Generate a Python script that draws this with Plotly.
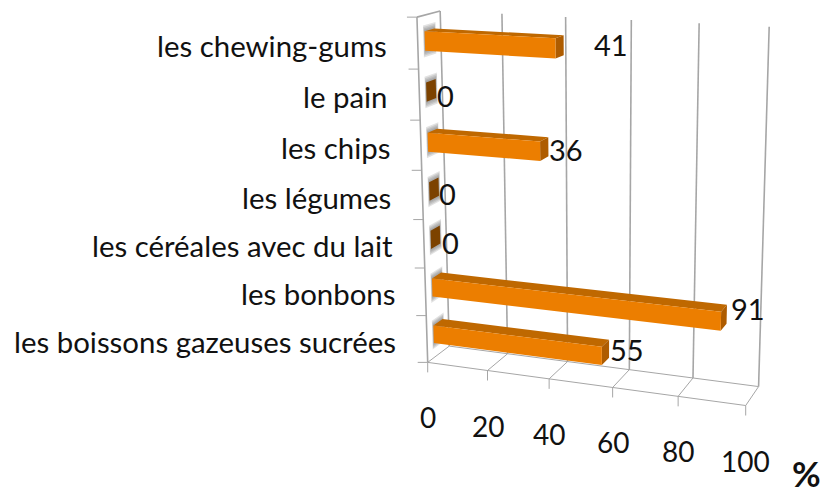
import numpy as np
import plotly.graph_objects as go

# bottom to top, same order as the chart's category axis
categories = ["les boissons gazeuses sucrées", "les bonbons", "les céréales avec du lait",
              "les légumes", "les chips", "le pain", "les chewing-gums"]
values = [55, 91, 0, 0, 36, 0, 41]
value_ticks = [0, 20, 40, 60, 80, 100]
axis_title = "%"

# value labels were moved by hand in the original, so each has its own nudge
label_nudge = [(18, 1), (21, -6), (10, 8), (9, 7), (18, 3), (10, 7), (47, -1)]

FONT = "Lato"
TEXT = "#111111"
GRID = "#A6A6A6"
FRONT = "#EC7E00"
TOP = "#BF6800"
SIDE = "#AE5C00"
ZERO = "#7C4200"

# how the 3D box sits on the page: (value, depth, category position) -> pixel
box_points = [
    (0, 0, 0, 428, 363), (0, 0, 1, 427, 316), (0, 0, 2, 425, 268), (0, 0, 3, 423, 219),
    (0, 0, 4, 422, 170), (0, 0, 5, 420, 120), (0, 0, 6, 418, 69.5), (0, 0, 7, 417, 17),
    (20, 0, 0, 487, 370.7), (40, 0, 0, 549, 379), (60, 0, 0, 612.7, 387),
    (80, 0, 0, 678, 396.7), (100, 0, 0, 745.7, 405),
    (0, 1, 0, 449, 346), (20, 1, 0, 508, 353), (40, 1, 0, 567, 362), (60, 1, 0, 629, 369),
    (80, 1, 0, 693, 378.7), (100, 1, 0, 759, 386.7),
    (0, 1, 7, 440, 11), (20, 1, 7, 502, 14), (40, 1, 7, 565.7, 17), (60, 1, 7, 632, 20),
    (80, 1, 7, 699, 23), (100, 1, 7, 769, 27),
]


def fit_camera(points):
    rows = []
    for v, d, c, px, py in points:
        w = [v, d, c, 1]
        rows.append(w + [0, 0, 0, 0] + [-px * a for a in w])
        rows.append([0, 0, 0, 0] + w + [-py * a for a in w])
    return np.linalg.svd(np.array(rows, dtype=float))[2][-1].reshape(3, 4)


CAMERA = fit_camera(box_points)


def project(v, d, c):
    p = CAMERA @ np.array([v, d, c, 1.0])
    return p[0] / p[2], p[1] / p[2]


def quads(corners_list):
    xs, ys = [], []
    for corners in corners_list:
        pts = [project(*c) for c in corners]
        pts.append(pts[0])
        xs += [p[0] for p in pts] + [None]
        ys += [p[1] for p in pts] + [None]
    return xs, ys


def fill(corners_list, color):
    xs, ys = quads(corners_list)
    return go.Scatter(x=xs, y=ys, mode="lines", fill="toself", fillcolor=color,
                      line=dict(width=0), hoverinfo="skip", showlegend=False)


def line(a, b, width=1.6, color=GRID):
    pa, pb = project(*a), project(*b)
    return go.Scatter(x=[pa[0], pb[0]], y=[pa[1], pb[1]], mode="lines",
                      line=dict(color=color, width=width), hoverinfo="skip", showlegend=False)


fig = go.Figure()
n = len(categories)
D0, D1 = 0.3, 0.72
H = 0.19

# walls and floor
for t in value_ticks:
    fig.add_trace(line((t, 1, 0), (t, 1, n)))
    fig.add_trace(line((t, 0, 0), (t, 1, 0), 1.0))
    p = project(t, 0, 0)
    fig.add_trace(go.Scatter(x=[p[0], p[0]], y=[p[1], p[1] + 10], mode="lines",
                             line=dict(color=GRID, width=1.0), hoverinfo="skip", showlegend=False))
fig.add_trace(line((0, 0, 0), (100, 0, 0), 1.0))
fig.add_trace(line((0, 1, 0), (100, 1, 0), 1.0))
fig.add_trace(line((0, 0, 0), (0, 0, n)))
fig.add_trace(line((0, 0, n), (0, 1, n)))
for c in range(n + 1):
    p = project(0, 0, c)
    fig.add_trace(go.Scatter(x=[p[0] - 10, p[0]], y=[p[1], p[1]], mode="lines",
                             line=dict(color=GRID, width=1.0), hoverinfo="skip", showlegend=False))

# soft shadow the bars throw on the side wall
for grow in (0.12, 0.09, 0.06, 0.03):
    fig.add_trace(fill([[(0, D0 - grow * 0.5, c + 0.5 - H - grow), (0, D1 + grow * 0.5, c + 0.5 - H - grow),
                         (0, D1 + grow * 0.5, c + 0.5 + H + grow), (0, D0 - grow * 0.5, c + 0.5 + H + grow)]
                        for c in range(n)], "rgba(110,110,110,0.2)"))

# bars
top, side, front, caps = [], [], [], []
for c, val in enumerate(values):
    lo, hi = c + 0.5 - H, c + 0.5 + H
    if val == 0:
        caps.append([(0, D0, lo), (0, D1, lo), (0, D1, hi), (0, D0, hi)])
        continue
    top.append([(0, D0, hi), (val, D0, hi), (val, D1, hi), (0, D1, hi)])
    side.append([(val, D0, lo), (val, D1, lo), (val, D1, hi), (val, D0, hi)])
    front.append([(0, D0, lo), (val, D0, lo), (val, D0, hi), (0, D0, hi)])
fig.add_trace(fill(caps, ZERO))
fig.add_trace(fill(top, TOP))
fig.add_trace(fill(side, SIDE))
fig.add_trace(fill(front, FRONT))

# texts
for c, (name, val, nudge) in enumerate(zip(categories, values, label_nudge)):
    p = project(0, 0, c + 0.5)
    fig.add_annotation(x=p[0] - 29, y=p[1] + 2, text=name, xanchor="right", yanchor="middle",
                       showarrow=False, font=dict(family=FONT, size=29.4, color=TEXT))
    e = project(val, D1, c + 0.5)
    fig.add_annotation(x=e[0] + nudge[0], y=e[1] + nudge[1], text=str(val), xanchor="center", yanchor="middle",
                       showarrow=False, font=dict(family=FONT, size=29, color=TEXT))
for t in value_ticks:
    p = project(t, 0, 0)
    fig.add_annotation(x=p[0], y=p[1] + 55, text=str(t), xanchor="center", yanchor="middle",
                       showarrow=False, font=dict(family=FONT, size=28, color=TEXT))
fig.add_annotation(x=806, y=473, text="<b>" + axis_title + "</b>", xanchor="center", yanchor="middle",
                   showarrow=False, font=dict(family=FONT, size=35, color=TEXT))

fig.update_layout(width=822, height=489, margin=dict(l=0, r=0, t=0, b=0),
                  paper_bgcolor="white", plot_bgcolor="white", showlegend=False,
                  xaxis=dict(range=[0, 822], visible=False),
                  yaxis=dict(range=[489, 0], visible=False))
fig.write_html("out.html", post_script="document.body.style.margin='0';",
               config=dict(displayModeBar=False))
